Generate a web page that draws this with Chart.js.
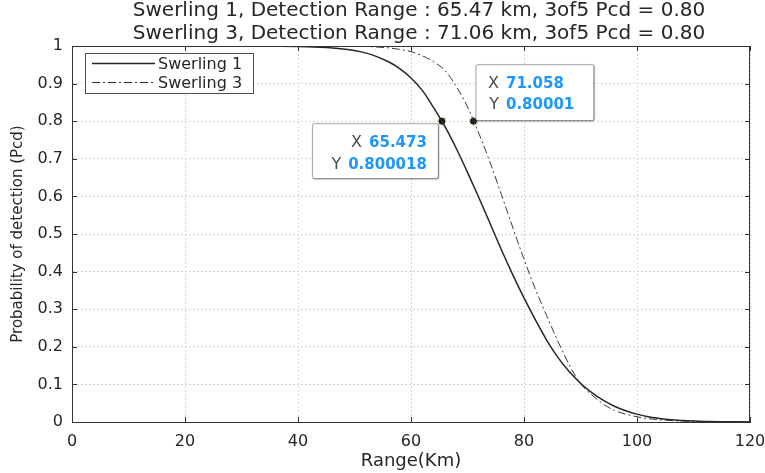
<!DOCTYPE html>
<html>
<head>
<meta charset="utf-8">
<script src="https://cdn.jsdelivr.net/npm/chart.js@4"></script>
<style>
  html, body { margin: 0; padding: 0; background: #fff; }
  #wrap { width: 765px; height: 473px; }
</style>
</head>
<body>
<div id="wrap"><canvas id="pcdChart" width="765" height="473"></canvas></div>
<script>
// values
const rangeKm = [0, 10, 20, 30, 40, 45, 50, 53, 56, 58, 60, 62, 64, 66, 68, 70, 72, 74, 76, 78, 80,
  82, 84, 86, 88, 90, 92, 94, 96, 98, 100, 102, 104, 106, 108, 110, 112, 115, 120];
const pcdSwerling1 = [1, 1, 1, 1, 0.999, 0.996, 0.988, 0.977, 0.958, 0.94, 0.915, 0.882, 0.836, 0.786, 0.728, 0.664, 0.597, 0.528, 0.458, 0.392, 0.33,
  0.272, 0.218, 0.172, 0.134, 0.103, 0.078, 0.058, 0.042, 0.03, 0.021, 0.014, 0.0095, 0.006, 0.004, 0.0025, 0.0015, 0.0007, 0.0002];
const pcdSwerling3 = [1, 1, 1, 1, 1, 1, 0.9995, 0.998, 0.995, 0.991, 0.985, 0.974, 0.958, 0.935, 0.893, 0.838, 0.768, 0.69, 0.605, 0.518, 0.433,
  0.354, 0.283, 0.215, 0.152, 0.102, 0.072, 0.048, 0.031, 0.021, 0.014, 0.009, 0.006, 0.004, 0.0025, 0.0015, 0.001, 0.0004, 0.0001];
const tipRange = [65.473, 71.058];
const tipPcd = [0.800018, 0.80001];
const tipText = [['65.473', '0.800018'], ['71.058', '0.80001']];
const seriesNames = ['Swerling 1', 'Swerling 3'];
const titleLines = [
  'Swerling 1, Detection Range : 65.47 km, 3of5 Pcd = 0.80',
  'Swerling 3, Detection Range : 71.06 km, 3of5 Pcd = 0.80'
];

const FONT = '"DejaVu Sans", sans-serif';
const TXT = '#262626';
const AX = '#333333';

const toPoints = (xs, ys) => xs.map((x, i) => ({ x: x, y: ys[i] }));

// title, box, inward ticks, legend and datatips
const matlabLook = {
  id: 'matlabLook',
  afterDatasetsDraw(chart) {
    const ctx = chart.ctx;
    const a = chart.chartArea;
    const xs = chart.scales.x, ys = chart.scales.y;
    ctx.save();

    // title
    ctx.fillStyle = TXT;
    ctx.font = '20px ' + FONT;
    ctx.textAlign = 'center';
    ctx.textBaseline = 'alphabetic';
    ctx.fillText(titleLines[0], 419, 16);
    ctx.fillText(titleLines[1], 419, 39);

    // box
    ctx.strokeStyle = AX;
    ctx.lineWidth = 1;
    ctx.beginPath();
    ctx.moveTo(a.left, a.top + 0.5); ctx.lineTo(a.right, a.top + 0.5);
    ctx.moveTo(a.right - 0.5, a.top); ctx.lineTo(a.right - 0.5, a.bottom);
    ctx.stroke();

    // inward ticks
    ctx.beginPath();
    xs.ticks.forEach(t => {
      const p = Math.round(xs.getPixelForValue(t.value)) + 0.5;
      ctx.moveTo(p, a.bottom); ctx.lineTo(p, a.bottom - 5);
      ctx.moveTo(p, a.top); ctx.lineTo(p, a.top + 5);
    });
    ys.ticks.forEach(t => {
      const p = Math.round(ys.getPixelForValue(t.value)) + 0.5;
      ctx.moveTo(a.left, p); ctx.lineTo(a.left + 5, p);
      ctx.moveTo(a.right, p); ctx.lineTo(a.right - 5, p);
    });
    ctx.stroke();

    // legend
    const lx = a.left + 13, ly = a.top + 7;
    ctx.fillStyle = '#fff';
    ctx.fillRect(lx, ly, 168, 40);
    ctx.strokeStyle = '#4d4d4d';
    ctx.strokeRect(lx + 0.5, ly + 0.5, 168, 40);
    ctx.font = '16px ' + FONT;
    ctx.textAlign = 'left';
    ctx.textBaseline = 'middle';
    chart.data.datasets.slice(0, 2).forEach((ds, i) => {
      const y = ly + 10.5 + i * 19;
      ctx.strokeStyle = ds.borderColor;
      ctx.lineWidth = ds.borderWidth;
      ctx.setLineDash(ds.borderDash || []);
      ctx.beginPath();
      ctx.moveTo(lx + 7, y); ctx.lineTo(lx + 70, y);
      ctx.stroke();
      ctx.setLineDash([]);
      ctx.fillStyle = TXT;
      ctx.fillText(seriesNames[i], lx + 73, y + 1);
    });

    // datatips
    tipRange.forEach((xv, i) => {
      const px = xs.getPixelForValue(xv);
      const py = ys.getPixelForValue(tipPcd[i]);
      const left = i === 0;
      const bx = left ? px - 130 : px + 2;
      const by = left ? py + 2 : py - 57;
      const bw = left ? 126 : 118;
      const bh = left ? 55 : 56;
      ctx.save();
      ctx.shadowColor = 'rgba(0,0,0,0.35)';
      ctx.shadowOffsetX = 1;
      ctx.shadowOffsetY = 1;
      ctx.shadowBlur = 2;
      ctx.fillStyle = '#fff';
      ctx.beginPath();
      ctx.roundRect(bx, by, bw, bh, 2);
      ctx.fill();
      ctx.restore();
      ctx.strokeStyle = 'rgba(0,0,0,0.35)';
      ctx.lineWidth = 1;
      ctx.beginPath();
      ctx.roundRect(bx + 0.5, by + 0.5, bw, bh, 2);
      ctx.stroke();

      ctx.textBaseline = 'alphabetic';
      ['X', 'Y'].forEach((lab, r) => {
        const base = left ? py + 25.5 + r * 22.5 : py - 33 + r * 21;
        ctx.font = 'bold 15px ' + FONT;
        const val = tipText[i][r];
        const vw = ctx.measureText(val).width;
        const vx = left ? px - 15 - vw : px + 32.5;
        ctx.fillStyle = 'rgb(30,150,255)';
        ctx.textAlign = 'left';
        ctx.fillText(val, vx, base);
        ctx.font = '16px ' + FONT;
        ctx.fillStyle = '#4a4a4a';
        ctx.textAlign = 'right';
        ctx.fillText(lab, vx - 7, base);
      });
    });
    ctx.restore();
  }
};

const ctx = document.getElementById('pcdChart').getContext('2d');
const pcdChart = new Chart(ctx, {
  type: 'line',
  data: {
    datasets: [{
      label: seriesNames[0],
      data: toPoints(rangeKm, pcdSwerling1),
      borderColor: '#262626',
      borderWidth: 1.5,
      pointRadius: 0,
      cubicInterpolationMode: 'monotone'
    }, {
      label: seriesNames[1],
      data: toPoints(rangeKm, pcdSwerling3),
      borderColor: '#3a3a3a',
      borderWidth: 1,
      borderDash: [8, 3, 2, 3],
      pointRadius: 0,
      cubicInterpolationMode: 'monotone'
    }, {
      label: 'datatips',
      data: toPoints(tipRange, tipPcd),
      showLine: false,
      pointRadius: 4,
      pointBackgroundColor: '#1a1a1a',
      pointBorderColor: '#eeeec0',
      pointBorderWidth: 1
    }]
  },
  options: {
    responsive: false,
    animation: false,
    layout: { padding: { top: 46, right: 15, left: 0, bottom: 0 } },
    plugins: {
      legend: { display: false },
      tooltip: { enabled: false }
    },
    scales: {
      x: {
        type: 'linear',
        min: 0, max: 120,
        ticks: { stepSize: 20, color: TXT, font: { family: FONT, size: 16 }, padding: 10, maxRotation: 0 },
        grid: { color: '#d6d6d6', drawTicks: false },
        border: { color: AX, width: 1, dash: [2, 2] },
        title: { display: true, text: 'Range(Km)', color: TXT, font: { family: FONT, size: 18 }, padding: { top: 0, bottom: 1 } },
        afterFit: s => { s.height = 51; s.paddingLeft = 0; s.paddingRight = 0; }
      },
      y: {
        min: 0, max: 1,
        ticks: {
          stepSize: 0.1, color: TXT, font: { family: FONT, size: 16 }, padding: 9,
          callback: v => String(Number(v.toFixed(1)))
        },
        grid: { color: '#d6d6d6', drawTicks: false },
        border: { color: AX, width: 1, dash: [2, 2] },
        title: { display: true, text: 'Probability of detection (Pcd)', color: TXT, font: { family: FONT, size: 15 }, padding: { top: 9, bottom: 0 } },
        afterFit: s => { s.width = 72; }
      }
    }
  },
  plugins: [matlabLook]
});
</script>
</body>
</html>
